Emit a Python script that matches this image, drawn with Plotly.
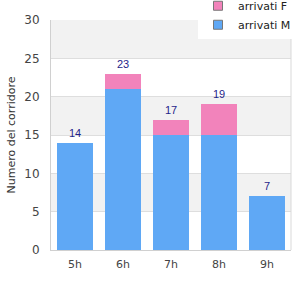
import plotly.graph_objects as go

categories = ["5h", "6h", "7h", "8h", "9h"]
arrivati_m = [14, 21, 15, 15, 7]
arrivati_f = [0, 2, 2, 4, 0]
totals = [m + f for m, f in zip(arrivati_m, arrivati_f)]
y_ticks = [0, 5, 10, 15, 20, 25, 30]

blue = "#5fa8f5"
pink = "#f283bb"

fig = go.Figure()
fig.add_trace(go.Bar(x=categories, y=arrivati_m, marker=dict(color=blue, line=dict(width=0)),
                     showlegend=False, hoverinfo="skip"))
fig.add_trace(go.Bar(x=categories, y=arrivati_f, marker=dict(color=pink, line=dict(width=0)),
                     showlegend=False, hoverinfo="skip"))
# legend entries
fig.add_trace(go.Scatter(x=[None], y=[None], mode="markers", name="arrivati M",
                         marker=dict(symbol="square", size=9, color=blue, line=dict(color="#777", width=1))))
fig.add_trace(go.Scatter(x=[None], y=[None], mode="markers", name="arrivati F",
                         marker=dict(symbol="square", size=9, color=pink, line=dict(color="#777", width=1))))

for c, t in zip(categories, totals):
    fig.add_annotation(x=c, y=t, text=str(t), showarrow=False, yshift=10, yanchor="middle",
                       font=dict(color="#1f1f8a", size=11, family="Liberation Sans, Arial, sans-serif"))

shapes = []
for lo in [5, 15, 25]:
    shapes.append(dict(type="rect", xref="paper", yref="y", x0=0, x1=1, y0=lo, y1=lo + 5,
                       fillcolor="#f2f2f2", line=dict(width=0), layer="below"))
shapes.append(dict(type="line", xref="paper", yref="paper", x0=1, x1=1, y0=0, y1=1,
                   line=dict(color="#d9d9d9", width=1)))

fig.update_layout(
    width=300, height=300,
    margin=dict(l=51, r=9, t=20, b=50, autoexpand=False),
    barmode="stack", bargap=0.27,
    plot_bgcolor="white", paper_bgcolor="white",
    font=dict(family="DejaVu Sans, sans-serif", size=11, color="#444"),
    shapes=shapes,
    showlegend=True,
    legend=dict(x=0.6125, y=1.125, xanchor="left", yanchor="top", traceorder="reversed",
                bgcolor="white", font=dict(size=11, color="#222"),
                itemwidth=30, tracegroupgap=0),
    xaxis=dict(showgrid=False, showline=True, linecolor="#d0d0d0", ticks="",
               ticklabelstandoff=4,
               tickfont=dict(size=11, color="#444"), fixedrange=True),
    yaxis=dict(range=[0, 30], tickvals=y_ticks, showgrid=True, gridcolor="#dedede",
               showline=True, linecolor="#d0d0d0", zeroline=False, ticks="",
               ticklabelstandoff=8,
               tickfont=dict(size=12, color="#444"),
               title=dict(text="Numero del corridore", font=dict(size=11, color="#333"), standoff=6)),
)

fig.write_html("out.html")
